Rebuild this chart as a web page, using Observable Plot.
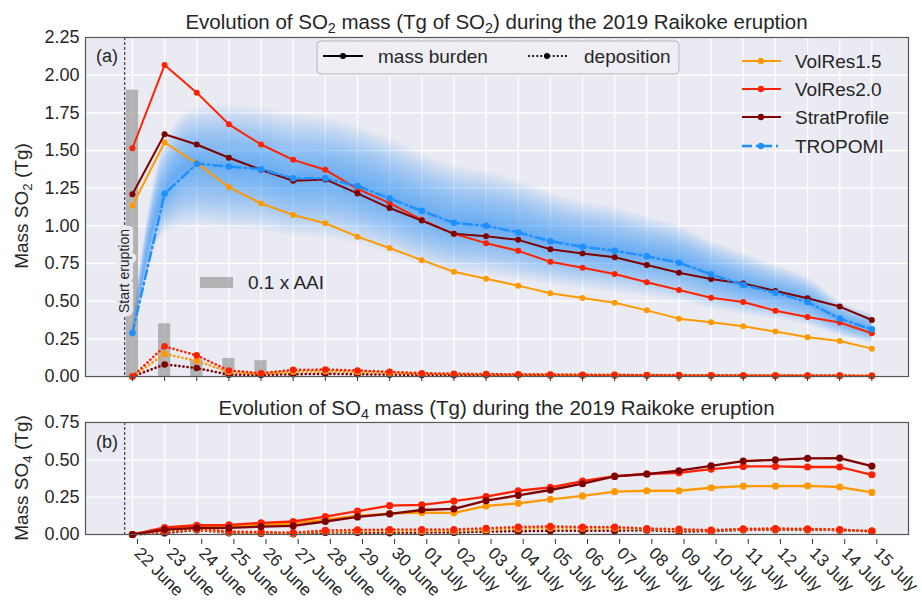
<!DOCTYPE html>
<html><head><meta charset="utf-8">
<script src="https://cdn.jsdelivr.net/npm/d3@7"></script>
<script src="https://cdn.jsdelivr.net/npm/@observablehq/plot@0.6"></script>
<style>
body{margin:0;background:#fff;font-family:"Liberation Sans",Arial,sans-serif;color:#262626}
#wrap{position:relative;width:922px;height:600px;overflow:hidden;background:#fff}
.abs{position:absolute}
.title{position:absolute;left:85px;width:823px;text-align:center;font-size:20.5px;line-height:24px;white-space:nowrap;color:#262626}
sub{font-size:0.7em;vertical-align:-0.3em;line-height:0}
.ylab{position:absolute;font-size:19px;line-height:22px;white-space:nowrap;transform:translate(-50%,-50%) rotate(-90deg);color:#262626}
</style></head><body>
<div id="wrap">
  <div id="topc" class="abs" style="left:0;top:0"></div>
  <div id="botc" class="abs" style="left:0;top:400px"></div>
  <div class="title" style="top:10px">Evolution of SO<sub>2</sub> mass (Tg of SO<sub>2</sub>) during the 2019 Raikoke eruption</div>
  <div class="title" style="top:396px">Evolution of SO<sub>4</sub> mass (Tg) during the 2019 Raikoke eruption</div>
  <div class="ylab" style="left:22px;top:206px">Mass SO<sub>2</sub> (Tg)</div>
  <div class="ylab" style="left:22px;top:478px">Mass SO<sub>4</sub> (Tg)</div>
  <div id="leg" class="abs" style="left:0;top:0;pointer-events:none"></div>
</div>
<script>
// ---------- data ----------
const days = ["22 June","23 June","24 June","25 June","26 June","27 June","28 June","29 June","30 June",
  "01 July","02 July","03 July","04 July","05 July","06 July","07 July","08 July","09 July","10 July",
  "11 July","12 July","13 July","14 July","15 July"];
const seriesNames = ["VolRes1.5","VolRes2.0","StratProfile","TROPOMI"];
const seriesColors = ["#ff9900","#ff2200","#7f0000","#1e90ff"];

// SO2 mass burden (Tg)
const so2VolRes15 = [1.134,1.553,1.416,1.257,1.149,1.072,1.017,0.928,0.853,0.772,0.695,0.649,0.603,0.552,0.521,0.490,0.439,0.384,0.360,0.333,0.298,0.260,0.236,0.185];
const so2VolRes20 = [1.515,2.067,1.884,1.674,1.540,1.438,1.372,1.245,1.151,1.040,0.947,0.885,0.834,0.761,0.722,0.680,0.625,0.574,0.523,0.494,0.437,0.395,0.358,0.287];
const so2Strat    = [1.209,1.608,1.540,1.452,1.372,1.299,1.308,1.215,1.118,1.035,0.947,0.931,0.907,0.845,0.817,0.792,0.740,0.689,0.647,0.618,0.567,0.519,0.464,0.375];
const so2Tropomi  = [0.288,1.213,1.412,1.394,1.376,1.315,1.315,1.264,1.182,1.099,1.020,1.000,0.956,0.898,0.861,0.834,0.798,0.755,0.678,0.607,0.556,0.494,0.384,0.313];
const tropomiLow  = [0.22,0.95,1.00,0.98,0.97,0.93,0.92,0.88,0.82,0.74,0.69,0.67,0.64,0.61,0.58,0.56,0.53,0.50,0.45,0.41,0.38,0.34,0.27,0.22];
const tropomiHigh = [0.36,1.55,1.78,1.80,1.78,1.74,1.72,1.66,1.58,1.48,1.40,1.36,1.30,1.22,1.16,1.12,1.06,1.00,0.90,0.82,0.74,0.66,0.50,0.42];
// SO2 deposition (Tg)
const depVolRes15 = [0,0.150,0.104,0.030,0.018,0.032,0.035,0.030,0.025,0.018,0.015,0.013,0.012,0.011,0.010,0.009,0.008,0.007,0.007,0.006,0.006,0.005,0.005,0.004];
const depVolRes20 = [0,0.200,0.140,0.040,0.022,0.044,0.046,0.040,0.031,0.022,0.018,0.016,0.015,0.013,0.012,0.011,0.010,0.009,0.008,0.007,0.007,0.006,0.006,0.005];
const depStrat    = [0,0.080,0.056,0.012,0.010,0.015,0.018,0.015,0.012,0.010,0.009,0.008,0.008,0.007,0.007,0.006,0.006,0.005,0.005,0.005,0.004,0.004,0.004,0.003];
// 0.1 x AAI (first five days)
const aai = [1.90,0.35,0.11,0.12,0.105];
// SO4 mass burden (Tg)
const so4VolRes15 = [0,0.042,0.053,0.056,0.067,0.073,0.100,0.127,0.140,0.147,0.145,0.191,0.209,0.235,0.258,0.287,0.293,0.293,0.313,0.324,0.324,0.326,0.318,0.282];
const so4VolRes20 = [0,0.047,0.062,0.064,0.078,0.087,0.120,0.156,0.193,0.198,0.224,0.253,0.293,0.316,0.358,0.391,0.405,0.413,0.438,0.456,0.456,0.452,0.452,0.400];
const so4Strat    = [0,0.033,0.044,0.044,0.053,0.058,0.087,0.118,0.138,0.164,0.172,0.227,0.262,0.298,0.340,0.389,0.405,0.427,0.460,0.492,0.500,0.510,0.512,0.458];
// SO4 deposition (Tg)
const dep4VolRes15 = [0,0.020,0.037,0.015,0.012,0.008,0.020,0.022,0.024,0.024,0.025,0.031,0.040,0.043,0.042,0.042,0.036,0.030,0.027,0.035,0.036,0.035,0.031,0.022];
const dep4VolRes20 = [0,0.027,0.042,0.020,0.016,0.012,0.027,0.031,0.033,0.033,0.033,0.042,0.050,0.054,0.050,0.050,0.040,0.036,0.029,0.038,0.040,0.038,0.033,0.022];
const dep4Strat    = [0,0.010,0.031,0.011,0.007,0.004,0.013,0.013,0.011,0.013,0.013,0.020,0.022,0.025,0.025,0.025,0.029,0.020,0.022,0.031,0.031,0.031,0.029,0.022];
const eruptionStart = -0.24; // days relative to 22 June 00 UTC
const yTicksTop = [0,0.25,0.5,0.75,1,1.25,1.5,1.75,2,2.25];
const yTicksBot = [0,0.25,0.5,0.75];

// ---------- helpers ----------
const idx = days.map((d,i)=>i);
const rows = arr => arr.map((v,i)=>({x:i,y:v}));
const BG = "#eaeaf2";
const FONT = "Liberation Sans, Arial, sans-serif";
const xDomain = [-1.46, 24.14];

function modelLine(arr, color, opts={}) {
  return [
    Plot.line(rows(arr), {x:"x", y:"y", stroke:color, strokeWidth:opts.w ?? 2, strokeDasharray:opts.dash, strokeLinecap:opts.dash ? "round" : "butt"}),
    Plot.dot(rows(arr), {x:"x", y:"y", r:opts.r ?? 3, fill:color, stroke:"none"})
  ];
}
function depLine(arr, color, r=3.3) {
  return [
    Plot.line(rows(arr), {x:"x", y:"y", stroke:color, strokeWidth:2.6, strokeDasharray:"0.1,4", strokeLinecap:"round"}),
    Plot.dot(rows(arr), {x:"x", y:"y", r, fill:color, stroke:"none"})
  ];
}

// TROPOMI uncertainty band drawn as nested translucent layers (visual gradient)
const bandRows = so2Tropomi.map((c,i)=>({x:i, c, lo:tropomiLow[i], hi:tropomiHigh[i]}));
const NB = 24;
const bandMarks = d3.range(1, NB+1).map(k => Plot.areaY(bandRows, {
  x:"x", y1:d=>d.c-(d.c-d.lo)*k/NB, y2:d=>d.c+(d.hi-d.c)*k/NB,
  fill:"#1e90ff", fillOpacity:0.036, curve:"monotone-x"
}));

const common = {
  width:922, marginLeft:85, marginRight:14,
  x:{domain:xDomain},
  style:{fontFamily:FONT, fontSize:"18px", color:"#262626", background:"transparent", overflow:"visible"}
};

const topChart = Plot.plot({
  ...common,
  height:400, marginTop:37, marginBottom:24,
  y:{domain:[0,2.25]},
  marks:[
    Plot.frame({fill:BG, stroke:"none"}),
    Plot.gridX(idx, {stroke:"#fff", strokeOpacity:1, strokeWidth:1.3}),
    Plot.gridY(yTicksTop, {stroke:"#fff", strokeOpacity:1, strokeWidth:1.3}),
    ...bandMarks,
    Plot.rectY(rows(aai), {x1:d=>d.x-0.19, x2:d=>d.x+0.19, y1:0, y2:"y", fill:"#8c8c8c", fillOpacity:0.6}),
    Plot.ruleX([eruptionStart], {stroke:"#222", strokeWidth:1, strokeDasharray:"3,2"}),
    Plot.text(["Start eruption"], {x:eruptionStart, y:0.70, text:d=>d, rotate:-90, fontSize:14, fill:"#262626", stroke:BG, strokeWidth:8, fontFamily:FONT}),
    ...depLine(depStrat, seriesColors[2]),
    ...depLine(depVolRes15, seriesColors[0]),
    ...depLine(depVolRes20, seriesColors[1]),
    ...modelLine(so2VolRes15, seriesColors[0]),
    ...modelLine(so2VolRes20, seriesColors[1]),
    ...modelLine(so2Strat, seriesColors[2]),
    ...modelLine(so2Tropomi, seriesColors[3], {w:2.5, dash:"9,4,1.5,4", r:3.3}),
    Plot.axisY({ticks:yTicksTop, tickFormat:d3.format(".2f"), tickSize:0, tickPadding:6, label:null, fontSize:18}),
    Plot.axisX({ticks:idx, tickFormat:()=>"", tickSize:5, label:null, stroke:"#333"}),
    Plot.frame({stroke:"#555", strokeWidth:1.2, fill:"none"})
  ]
});
document.getElementById("topc").appendChild(topChart);

const botChart = Plot.plot({
  ...common,
  height:200, marginTop:22, marginBottom:66,
  y:{domain:[0,0.75]},
  marks:[
    Plot.frame({fill:BG, stroke:"none"}),
    Plot.gridX(idx, {stroke:"#fff", strokeOpacity:1, strokeWidth:1.3}),
    Plot.gridY(yTicksBot, {stroke:"#fff", strokeOpacity:1, strokeWidth:1.3}),
    Plot.ruleX([eruptionStart], {stroke:"#222", strokeWidth:1, strokeDasharray:"3,2"}),
    ...depLine(dep4Strat, seriesColors[2], 3.6),
    ...depLine(dep4VolRes15, seriesColors[0], 3.6),
    ...depLine(dep4VolRes20, seriesColors[1], 3.6),
    ...modelLine(so4VolRes15, seriesColors[0], {w:2.3, r:3.6}),
    ...modelLine(so4VolRes20, seriesColors[1], {w:2.3, r:3.6}),
    ...modelLine(so4Strat, seriesColors[2], {w:2.3, r:3.6}),
    Plot.axisY({ticks:yTicksBot, tickFormat:d3.format(".2f"), tickSize:0, tickPadding:6, label:null, fontSize:18}),
    Plot.axisX({ticks:idx, tickFormat:i=>days[i], tickSize:5, tickPadding:6, tickRotate:45, textAnchor:"start", dx:5, dy:5, label:null, stroke:"#333", fontSize:17}),
    Plot.frame({stroke:"#555", strokeWidth:1.2, fill:"none"})
  ]
});
document.getElementById("botc").appendChild(botChart);

// ---------- legends & annotations (overlay) ----------
const leg = d3.select("#leg").append("svg").attr("width",922).attr("height",600)
  .style("font-family",FONT).style("font-size","19px").style("fill","#262626");
// panel labels
leg.append("text").attr("x",96).attr("y",56).attr("dy","0.35em").style("font-size","18px").text("(a)");
leg.append("text").attr("x",96).attr("y",442).attr("dy","0.35em").style("font-size","18px").text("(b)");
// line-style legend box
leg.append("rect").attr("x",317).attr("y",41).attr("width",362).attr("height",33).attr("rx",4)
  .attr("fill","#eeeef4").attr("stroke","#b5b5b5").attr("stroke-width",1);
leg.append("line").attr("x1",323).attr("x2",363).attr("y1",56).attr("y2",56).attr("stroke","#000").attr("stroke-width",2);
leg.append("circle").attr("cx",343).attr("cy",56).attr("r",3).attr("fill","#000");
leg.append("text").attr("x",378).attr("y",56).attr("dy","0.35em").text("mass burden");
leg.append("line").attr("x1",529).attr("x2",566).attr("y1",56).attr("y2",56).attr("stroke","#000").attr("stroke-width",2.2)
  .attr("stroke-dasharray","0.1,4").attr("stroke-linecap","round");
leg.append("circle").attr("cx",547).attr("cy",56).attr("r",3).attr("fill","#000");
leg.append("text").attr("x",584).attr("y",56).attr("dy","0.35em").text("deposition");
// series legend
seriesNames.forEach((name,i)=>{
  const y = [61,89,117,146][i];
  const dash = name==="TROPOMI" ? "10,4,2,4" : null;
  leg.append("line").attr("x1",742).attr("x2",781).attr("y1",y).attr("y2",y).attr("stroke",seriesColors[i])
    .attr("stroke-width",name==="TROPOMI"?2.5:2.2).attr("stroke-dasharray",dash);
  leg.append("circle").attr("cx",761).attr("cy",y).attr("r",3.2).attr("fill",seriesColors[i]);
  leg.append("text").attr("x",795).attr("y",y).attr("dy","0.35em").text(name);
});
// AAI legend
leg.append("rect").attr("x",200).attr("y",277).attr("width",33).attr("height",11).attr("fill","#8c8c8c").attr("fill-opacity",0.6);
leg.append("text").attr("x",248).attr("y",282).attr("dy","0.35em").text("0.1 x AAI");
</script>
</body></html>
